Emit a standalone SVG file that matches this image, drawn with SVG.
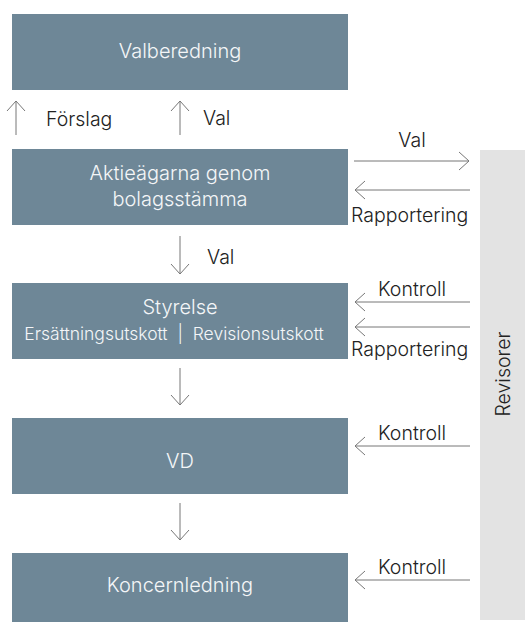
<svg xmlns="http://www.w3.org/2000/svg" width="525" height="622" viewBox="0 0 525 622">
<style>
.box{fill:#6e8797}
.bt{fill:#f4f6f8;font-family:Inter,"Liberation Sans",sans-serif;font-weight:300;font-size:20px;text-anchor:middle}
.st{fill:#f4f6f8;font-family:Inter,"Liberation Sans",sans-serif;font-weight:300;font-size:17.5px;text-anchor:middle}
.lb{fill:#222;font-family:Inter,"Liberation Sans",sans-serif;font-weight:300;font-size:19.5px}
.ln{stroke:#777;stroke-width:1;fill:none}
</style>
<defs>
<marker id="ah" viewBox="0 0 12 20" refX="11" refY="10" markerWidth="12" markerHeight="20" markerUnits="userSpaceOnUse" orient="auto">
<path d="M1,1 L11,10 L1,19" fill="none" stroke="#777" stroke-width="1"/>
</marker>
</defs>
<rect x="480" y="150" width="45" height="470" fill="#e3e3e3"/>
<text class="lb" transform="translate(510,374) rotate(-90)" text-anchor="middle" fill="#333" font-size="21">Revisorer</text>
<g id="valberedning"><rect class="box" x="12" y="14" width="336" height="76"/><text class="bt" x="180" y="58">Valberedning</text></g>
<g id="aktieagarna"><rect class="box" x="12" y="149" width="336" height="76"/><text class="bt" x="180" y="180">Aktieägarna genom</text><text class="bt" x="180" y="206">bolagsstämma</text></g>
<g id="styrelse"><rect class="box" x="12" y="283" width="336" height="76"/><text class="bt" x="180" y="314">Styrelse</text><text class="st" x="174" y="340" xml:space="preserve">Ersättningsutskott  |  Revisionsutskott</text></g>
<g id="vd"><rect class="box" x="12" y="418" width="336" height="76"/><text class="bt" x="180" y="468">VD</text></g>
<g id="koncernledning"><rect class="box" x="12" y="553" width="336" height="69"/><text class="bt" x="180" y="592">Koncernledning</text></g>
<g id="connectors">
<line class="ln" x1="16" y1="135" x2="16" y2="101" marker-end="url(#ah)"/>
<line class="ln" x1="180" y1="135" x2="180" y2="101" marker-end="url(#ah)"/>
<line class="ln" x1="180" y1="236" x2="180" y2="274" marker-end="url(#ah)"/>
<line class="ln" x1="180" y1="368" x2="180" y2="405" marker-end="url(#ah)"/>
<line class="ln" x1="180" y1="503" x2="180" y2="540" marker-end="url(#ah)"/>
<line class="ln" x1="354" y1="161" x2="469" y2="161" marker-end="url(#ah)"/>
<line class="ln" x1="470" y1="190" x2="355" y2="190" marker-end="url(#ah)"/>
<line class="ln" x1="470" y1="302" x2="355" y2="302" marker-end="url(#ah)"/>
<line class="ln" x1="470" y1="327" x2="355" y2="327" marker-end="url(#ah)"/>
<line class="ln" x1="470" y1="446" x2="355" y2="446" marker-end="url(#ah)"/>
<line class="ln" x1="470" y1="580" x2="355" y2="580" marker-end="url(#ah)"/>
<text class="lb" x="46" y="126">Förslag</text>
<text class="lb" x="203" y="125">Val</text>
<text class="lb" x="207" y="264" font-size="24">Val</text>
<text class="lb" x="412" y="147" text-anchor="middle">Val</text>
<text class="lb" x="351" y="222">Rapportering</text>
<text class="lb" x="378" y="296">Kontroll</text>
<text class="lb" x="351" y="356">Rapportering</text>
<text class="lb" x="378" y="440">Kontroll</text>
<text class="lb" x="378" y="574">Kontroll</text>
</g>
</svg>
